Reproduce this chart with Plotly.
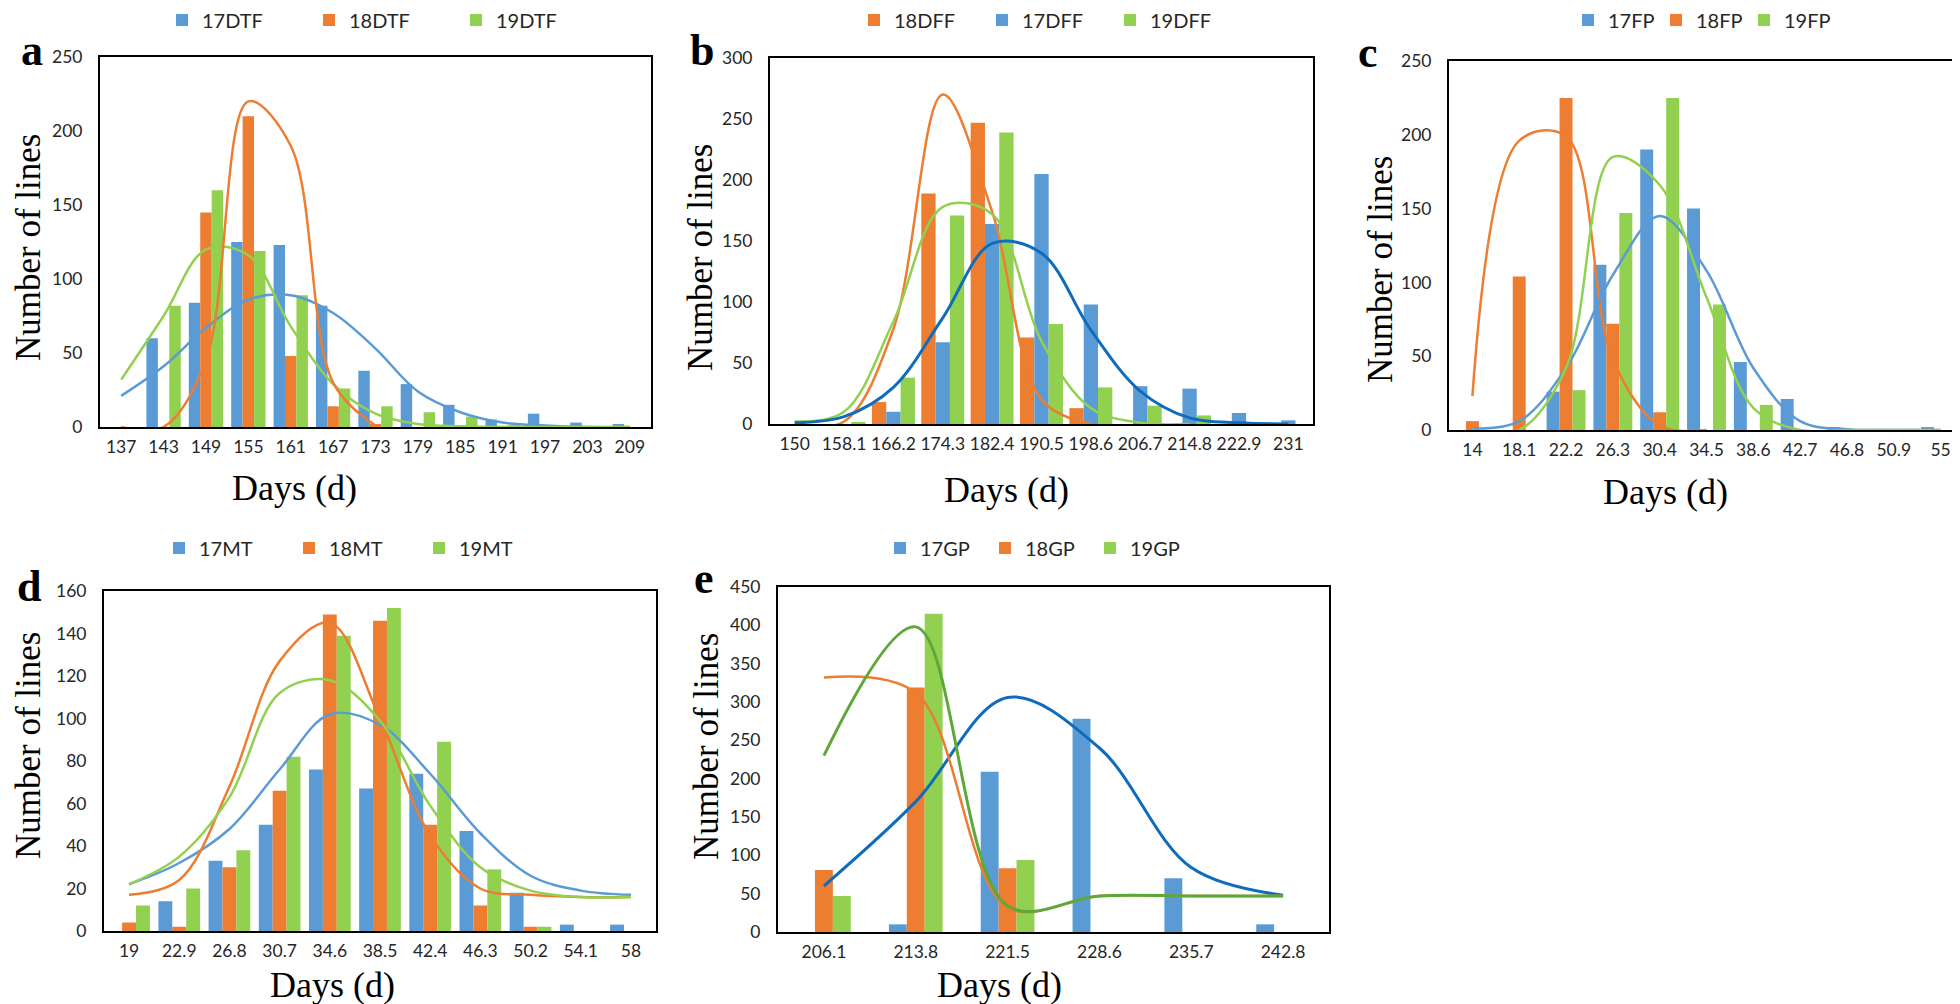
import plotly.graph_objects as go

W, H = 1960, 1004

BLUE = "#5B9BD5"
ORANGE = "#ED7D31"
GREEN = "#92D050"
BLUE_DARK = "#0F6CBD"
GREEN_DARK = "#5EA83A"

# ---------------- panel a : DTF ----------------
a_days = ["137", "143", "149", "155", "161", "167", "173", "179", "185", "191", "197", "203", "209"]
a_17 = [0, 60, 84, 125, 123, 82, 38, 29, 15, 5, 9, 3, 2]
a_18 = [0, 0, 145, 210, 48, 14, 2, 0, 0, 0, 0, 0, 0]
a_19 = [0, 82, 160, 119, 89, 26, 14, 10, 7, 1, 0, 0, 0]
a_17_fit = [21, 41, 67, 86, 89, 77, 53, 24, 10, 3, 1, 0, 0]
a_18_fit = [0, 0, 45, 220, 190, 30, 1]
a_19_fit = [32, 75, 120, 116, 68, 29, 9, 2, 0.5, 0, 0, 0, 0]

# ---------------- panel b : DFF ----------------
b_days = ["150", "158.1", "166.2", "174.3", "182.4", "190.5", "198.6", "206.7", "214.8", "222.9", "231"]
b_18 = [0, 0, 18, 189, 247, 71, 13, 0, 0, 0, 0]
b_17 = [0, 0, 10, 67, 164, 205, 98, 31, 29, 9, 3]
b_19 = [0, 1, 38, 171, 239, 82, 30, 15, 7, 0, 0]
b_18_fit = [0, 2, 78, 270, 174, 20, 0]
b_17_fit = [1, 6, 30, 87, 148, 140, 77, 27, 5, 1, 0]
b_19_fit = [2, 10, 84, 178, 172, 68, 13, 1, 0]

# ---------------- panel c : FP ----------------
c_days = ["14", "18.1", "22.2", "26.3", "30.4", "34.5", "38.6", "42.7", "46.8", "50.9", "55"]
c_17 = [0, 0, 26, 112, 190, 150, 46, 21, 2, 0, 2]
c_18 = [6, 104, 225, 72, 12, 0, 0, 0, 0, 0, 0]
c_19 = [0, 0, 27, 147, 225, 85, 17, 0, 0, 0, 0]
c_17_fit = [1, 6, 42, 105, 145, 108, 42, 6, 0.5, 0, 0]
c_18_fit = [23, 196, 199, 48, 3, 0]
c_19_fit = [0, 0, 42, 185, 166, 90, 15, 0, 0, 0, 0]

# ---------------- panel d : MT ----------------
d_days = ["19", "22.9", "26.8", "30.7", "34.6", "38.5", "42.4", "46.3", "50.2", "54.1", "58"]
d_17 = [0, 14, 33, 50, 76, 67, 74, 47, 18, 3, 3]
d_18 = [4, 2, 30, 66, 149, 146, 50, 12, 2, 0, 0]
d_19 = [12, 20, 38, 82, 139, 152, 89, 29, 2, 0, 0]
d_17_fit = [22, 32, 48, 76, 102, 97, 74, 46, 26, 19, 17]
d_18_fit = [17, 24, 68, 127, 145, 100, 45, 20, 17, 16, 16]
d_19_fit = [22, 35, 63, 112, 118, 99, 59, 30, 19, 16, 16]

# ---------------- panel e : GP ----------------
e_days = ["206.1", "213.8", "221.5", "228.6", "235.7", "242.8"]
e_17 = [0, 10, 209, 278, 70, 10]
e_18 = [81, 319, 83, 0, 0, 0]
e_19 = [47, 415, 94, 0, 0, 0]
e_17_fit = [60, 170, 306, 240, 84, 48]
e_18_fit = [332, 312, 32, 47, 47, 47]
e_19_fit = [230, 398, 34, 47, 47, 47]

panels = [
    dict(cats=a_days, ymax=250, dtick=50, bw=0.27,
         bars=[("17DTF", a_17, BLUE), ("18DTF", a_18, ORANGE), ("19DTF", a_19, GREEN)],
         fits=[(a_17_fit, BLUE, 2.5), (a_19_fit, GREEN, 2.5), (a_18_fit, ORANGE, 2.5)],
         box=(92, 643, 49, 419), letter="a", lpos=(24, 43),
         ytitle=(20, 240), xtitle=(286, 480), leg=(154, 12, 147)),
    dict(cats=b_days, ymax=300, dtick=50, bw=0.29,
         bars=[("18DFF", b_18, ORANGE), ("17DFF", b_17, BLUE), ("19DFF", b_19, GREEN)],
         fits=[(b_18_fit, ORANGE, 2.5), (b_19_fit, GREEN, 2.5), (b_17_fit, BLUE_DARK, 3)],
         box=(762, 1305, 50, 416), letter="b", lpos=(694, 43),
         ytitle=(692, 250), xtitle=(999, 482), leg=(846, 12, 128)),
    dict(cats=c_days, ymax=250, dtick=50, bw=0.277,
         bars=[("17FP", c_17, BLUE), ("18FP", c_18, ORANGE), ("19FP", c_19, GREEN)],
         fits=[(c_18_fit, ORANGE, 2.5), (c_17_fit, BLUE, 2.5), (c_19_fit, GREEN, 2.5)],
         box=(1441, 1956, 53, 422), letter="c", lpos=(1360, 45),
         ytitle=(1372, 262), xtitle=(1657, 484), leg=(1560, 12, 88)),
    dict(cats=d_days, ymax=160, dtick=20, bw=0.277,
         bars=[("17MT", d_17, BLUE), ("18MT", d_18, ORANGE), ("19MT", d_19, GREEN)],
         fits=[(d_17_fit, BLUE, 2.5), (d_18_fit, ORANGE, 2.5), (d_19_fit, GREEN, 2.5)],
         box=(96, 648, 583, 923), letter="d", lpos=(21, 578),
         ytitle=(20, 738), xtitle=(324, 977), leg=(151, 540, 130)),
    dict(cats=e_days, ymax=450, dtick=50, bw=0.195,
         bars=[("17GP", e_17, BLUE), ("18GP", e_18, ORANGE), ("19GP", e_19, GREEN)],
         fits=[(e_17_fit, BLUE_DARK, 3), (e_18_fit, ORANGE, 2.5), (e_19_fit, GREEN_DARK, 3)],
         box=(770, 1321, 579, 924), letter="e", lpos=(696, 570),
         ytitle=(698, 739), xtitle=(991, 977), leg=(872, 540, 105)),
]

TICK_FONT = dict(family="Lato", size=17.5, color="#262626")
LEG_FONT = dict(family="Lato", size=20, color="#262626")
SERIF = "Liberation Serif"
ENTRY_PAD = 45  # symbol area + gaps that plotly adds to each legend entry

fig = go.Figure()
layout = dict(
    width=W, height=H, margin=dict(l=0, r=0, t=0, b=0, pad=0, autoexpand=False),
    paper_bgcolor="white", plot_bgcolor="white",
    barmode="overlay", showlegend=True, annotations=[],
)


def fx(x):
    return x / W


def fy(y):
    return 1 - y / H


for i, p in enumerate(panels, start=1):
    sfx = "" if i == 1 else str(i)
    xa, ya, lg = "x" + sfx, "y" + sfx, "legend" + sfx
    w = p["bw"]
    for j, (name, vals, color) in enumerate(p["bars"]):
        fig.add_trace(go.Bar(
            x=p["cats"], y=vals, name=name, marker=dict(color=color, line=dict(width=0)),
            width=w, offset=-1.5 * w + j * w, xaxis=xa, yaxis=ya, legend=lg,
            hoverinfo="x+y+name"))
    for vals, color, lw in p["fits"]:
        fig.add_trace(go.Scatter(
            x=p["cats"][:len(vals)], y=vals, mode="lines",
            line=dict(color=color, width=lw, shape="spline", smoothing=1.0),
            xaxis=xa, yaxis=ya, showlegend=False, hoverinfo="skip", cliponaxis=True))

    l, r, t, b = p["box"]
    n = len(p["cats"])
    layout["xaxis" + sfx] = dict(
        domain=[fx(l), fx(r)], anchor=ya, type="category", range=[-0.5, n - 0.5],
        showline=True, mirror=True, linecolor="black", linewidth=2,
        ticks="", showgrid=False, zeroline=False, tickfont=TICK_FONT, tickangle=0,
        ticklabelstandoff=3, fixedrange=True, automargin=False)
    layout["yaxis" + sfx] = dict(
        domain=[fy(b), fy(t)], anchor=xa, range=[0, p["ymax"]], dtick=p["dtick"],
        showline=True, mirror=True, linecolor="black", linewidth=2,
        ticks="", showgrid=False, zeroline=False, tickfont=TICK_FONT,
        ticklabelstandoff=12, fixedrange=True, automargin=False)
    lx, ly, ew = p["leg"]
    layout["legend" + sfx] = dict(
        orientation="h", x=fx(lx), y=fy(ly), xanchor="left", yanchor="middle",
        entrywidth=ew - ENTRY_PAD, entrywidthmode="pixels", traceorder="normal",
        font=LEG_FONT, bgcolor="rgba(0,0,0,0)", borderwidth=0)

    layout["annotations"].append(dict(
        text="<b>%s</b>" % p["letter"], x=fx(p["lpos"][0]), y=fy(p["lpos"][1]),
        xref="paper", yref="paper", showarrow=False, xanchor="center", yanchor="middle",
        font=dict(family=SERIF, size=44, color="black")))
    layout["annotations"].append(dict(
        text="Number of lines", x=fx(p["ytitle"][0]), y=fy(p["ytitle"][1]),
        xref="paper", yref="paper", showarrow=False, textangle=-90,
        xanchor="center", yanchor="middle",
        font=dict(family=SERIF, size=35, color="black")))
    layout["annotations"].append(dict(
        text="Days (d)", x=fx(p["xtitle"][0]), y=fy(p["xtitle"][1]),
        xref="paper", yref="paper", showarrow=False,
        xanchor="center", yanchor="middle",
        font=dict(family=SERIF, size=36, color="black")))

fig.update_layout(**layout)
fig.write_html("out.html")
